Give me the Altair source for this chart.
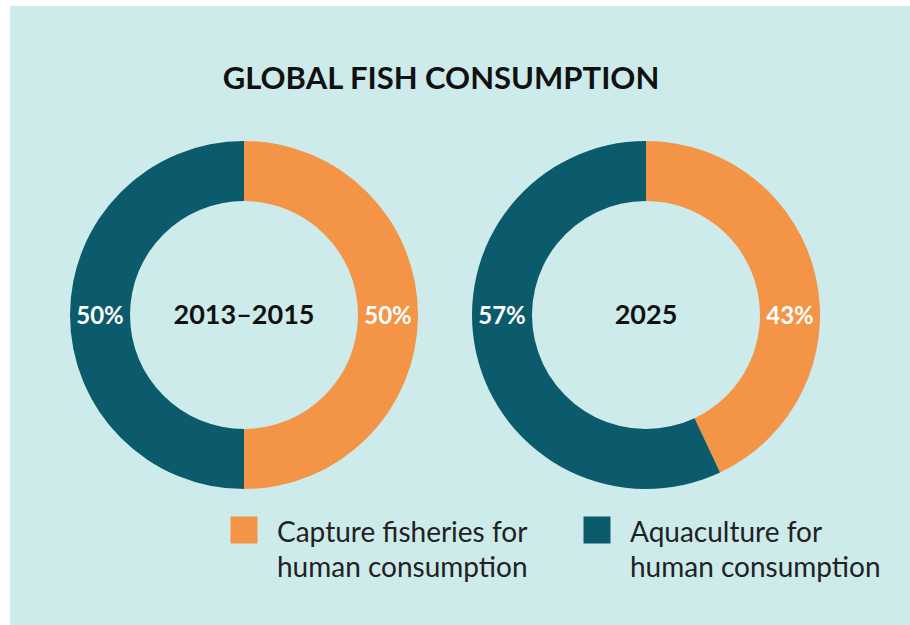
import math
import altair as alt
import pandas as pd

# ---- data ----
periods = ["2013–2015", "2025"]
series = ["Capture fisheries for human consumption", "Aquaculture for human consumption"]
legend_labels = ["Capture fisheries for\nhuman consumption", "Aquaculture for\nhuman consumption"]
capture_pct = [50, 43]
aquaculture_pct = [50, 57]
colors = ["#f39447", "#0c5b6c"]
title_text = "GLOBAL FISH CONSUMPTION"

rows = []
for i, p in enumerate(periods):
    rows.append({"period": p, "series": series[0], "value": capture_pct[i], "order": 0})
    rows.append({"period": p, "series": series[1], "value": aquaculture_pct[i], "order": 1})
df = pd.DataFrame(rows)
legend_df = pd.DataFrame({"series": series, "label": legend_labels})
center_df = pd.DataFrame({"period": periods})

BG = "#cdebeb"
FONT = "Lato"

panel = alt.Chart(pd.DataFrame({"a": [0]})).mark_rect(color=BG).encode(
    x=alt.value(10), x2=alt.value(910), y=alt.value(6), y2=alt.value(625)
)

xscale = alt.Scale(type="point", domain=periods, range=[244, 646], padding=0)
cscale = alt.Scale(domain=series, range=colors)

base = alt.Chart(df).transform_window(
    cum="sum(value)", groupby=["period"], sort=[alt.SortField("order")], frame=[None, 0]
).transform_calculate(start="datum.cum - datum.value", label="datum.value + '%'")

arcs = base.mark_arc(innerRadius=114, outerRadius=174).encode(
    x=alt.X("period:N", scale=xscale, axis=None),
    y=alt.value(315),
    theta=alt.Theta("start:Q", scale=alt.Scale(domain=[0, 100], range=[0, 2 * math.pi])),
    theta2="cum:Q",
    color=alt.Color("series:N", scale=cscale, legend=None),
)

lab_right = base.transform_filter(alt.datum.order == 0).mark_text(
    theta=math.pi / 2, radius=144, color="white", font=FONT, fontSize=24,
    fontWeight="bold", baseline="middle", align="center"
).encode(x=alt.X("period:N", scale=xscale, axis=None), y=alt.value(317), text="label:N")

lab_left = base.transform_filter(alt.datum.order == 1).mark_text(
    theta=3 * math.pi / 2, radius=144, color="white", font=FONT, fontSize=24,
    fontWeight="bold", baseline="middle", align="center"
).encode(x=alt.X("period:N", scale=xscale, axis=None), y=alt.value(317), text="label:N")

centers = alt.Chart(center_df).mark_text(
    font=FONT, fontSize=27, fontWeight="bold", color="#111111", baseline="middle", align="center"
).encode(x=alt.X("period:N", scale=xscale, axis=None), y=alt.value(316), text="period:N")

title = alt.Chart(pd.DataFrame({"t": [title_text]})).mark_text(
    font=FONT, fontSize=31, fontWeight="bold", color="#111111", baseline="middle", align="center"
).encode(x=alt.value(441), y=alt.value(80), text="t:N")

lscale = alt.Scale(type="point", domain=series, range=[244, 597], padding=0)
leg_sq = alt.Chart(legend_df).mark_square(size=729, opacity=1).encode(
    x=alt.X("series:N", scale=lscale, axis=None),
    y=alt.value(530),
    color=alt.Color("series:N", scale=cscale, legend=None),
)
leg_tx = alt.Chart(legend_df).mark_text(
    font=FONT, fontSize=28, color="#222222", align="left", baseline="alphabetic",
    dx=33, lineBreak="\n", lineHeight=35
).encode(
    x=alt.X("series:N", scale=lscale, axis=None),
    y=alt.value(542),
    text="label:N",
)

chart = alt.layer(panel, arcs, lab_right, lab_left, centers, title, leg_sq, leg_tx).resolve_scale(
    x="independent"
).properties(
    width=910, height=625, background="white", padding=0,
    autosize=alt.AutoSizeParams(type="none"),
).configure_view(stroke=None)

chart.save("out.html", embed_options={"renderer": "svg", "actions": False})
